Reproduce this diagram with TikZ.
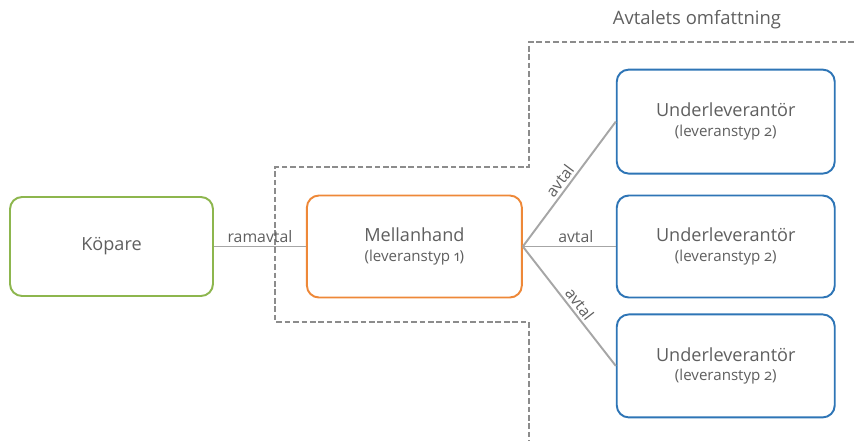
\documentclass[tikz,border=0pt]{standalone}
\usepackage{fontspec}
\setmainfont[Numbers=OldStyle]{Open Sans}
\usepackage{tikz}
\usetikzlibrary{positioning}
\definecolor{txtgray}{HTML}{5F5F5F}
\definecolor{linegray}{HTML}{A6A6A6}
\definecolor{dashgray}{HTML}{8C8C8C}
\definecolor{kopgreen}{HTML}{8DB64E}
\definecolor{mellorange}{HTML}{EE8838}
\definecolor{underblue}{HTML}{2E75B6}
\tikzset{
  party/.style={draw,rounded corners=0.24cm,line width=1.1pt,fill=white,
    align=center,text=txtgray,font=\fontsize{10.3}{13}\selectfont},
  link/.style={draw=linegray,line width=1.1pt},
  linklabel/.style={text=txtgray,font=\fontsize{9}{10}\selectfont,inner sep=1.5pt},
  scope line/.style={draw=dashgray,line width=1.4pt,dash pattern=on 3.2pt off 1.6pt}
}
\newcommand{\levtyp}[1]{{\fontsize{8.6}{10}\selectfont(leveranstyp #1)}}

\begin{document}
\begin{tikzpicture}[x=0.02cm,y=-0.02cm]
                   \useasboundingbox (0,0) rectangle (854,441);
                   % avtalets omfattning
                   \draw[scope line] (854,42) -- (529,42) -- (529,167) -- (275,167)
                          -- (275,322) -- (529,322) -- (529,441);
                   \node[text=txtgray,font=\fontsize{10.5}{12}\selectfont] (omf) at (697,20) {Avtalets omfattning};

                   \node[party,draw=kopgreen,minimum width=4.06cm,minimum height=1.98cm] (kop) at (111.5,246.5) {Köpare};
                   \node[party,draw=mellorange,minimum width=4.3cm,minimum height=2.04cm] (mell) [right=1.84cm of kop]
                      {Mellanhand\\[-2pt]\levtyp{1}};
                   \node[party,draw=underblue,minimum width=4.36cm,minimum height=2.04cm] (und_2) [right=1.86cm of mell]
                      {Underleverantör\\[-2pt]\levtyp{2}};
                   \node[party,draw=underblue,minimum width=4.36cm,minimum height=2.08cm] (und_1) [above=0.4cm of und_2]
                      {Underleverantör\\[-2pt]\levtyp{2}};
                   \node[party,draw=underblue,minimum width=4.36cm,minimum height=2.06cm] (und_3) [below=0.3cm of und_2]
                      {Underleverantör\\[-2pt]\levtyp{2}};

                    \path[link]
                    (kop.east) edge node[linklabel,above] {ramavtal} (mell.west)
                    (mell.east) edge node[linklabel,above,sloped,pos=0.48] {avtal} (und_1.west)
                                edge node[linklabel,above,pos=0.57] {avtal} (und_2.west)
                                edge node[linklabel,above,sloped,pos=0.53] {avtal} (und_3.west);
                \end{tikzpicture}
\end{document}
